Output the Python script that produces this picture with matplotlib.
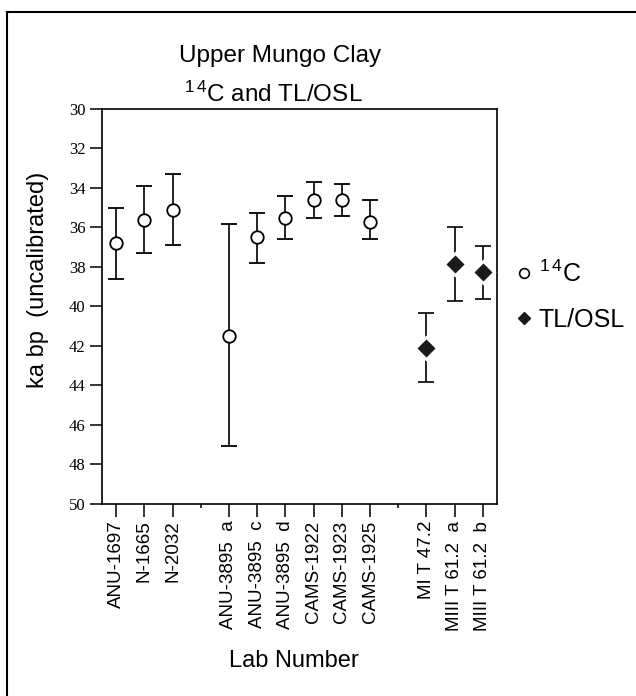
import matplotlib
matplotlib.use("Agg")
import matplotlib.pyplot as plt
from matplotlib.lines import Line2D

plt.rcParams['font.family'] = ['Liberation Sans', 'DejaVu Sans']
plt.rcParams['mathtext.default'] = 'regular'

# lab numbers along the x axis (blank entries are the gaps between groups)
lab_numbers = ['ANU-1697', 'N-1665', 'N-2032', '',
               'ANU-3895  a', 'ANU-3895  c', 'ANU-3895  d',
               'CAMS-1922', 'CAMS-1923', 'CAMS-1925', '',
               'MI T 47.2', 'MIII T 61.2  a', 'MIII T 61.2  b']

# 14C dates, ka bp
c14_labs = ['ANU-1697', 'N-1665', 'N-2032', 'ANU-3895  a', 'ANU-3895  c',
            'ANU-3895  d', 'CAMS-1922', 'CAMS-1923', 'CAMS-1925']
c14_age = [36.8, 35.6, 35.1, 41.5, 36.5, 35.5, 34.6, 34.6, 35.7]
c14_young = [35.0, 33.9, 33.3, 35.8, 35.25, 34.4, 33.7, 33.8, 34.6]
c14_old = [38.6, 37.3, 36.9, 47.05, 37.8, 36.6, 35.5, 35.4, 36.6]

# TL/OSL dates, ka bp
tl_labs = ['MI T 47.2', 'MIII T 61.2  a', 'MIII T 61.2  b']
tl_age = [42.1, 37.85, 38.25]
tl_young = [40.35, 35.95, 36.95]
tl_old = [43.8, 39.7, 39.6]

y_ticks = [30, 32, 34, 36, 38, 40, 42, 44, 46, 48, 50]

fig = plt.figure(figsize=(6.36, 6.96), dpi=100)
ax = fig.add_axes([0.1604, 0.2759, 0.6210, 0.5675])

c14_x = [lab_numbers.index(s) for s in c14_labs]
tl_x = [lab_numbers.index(s) for s in tl_labs]

c14_err = [[a - y for a, y in zip(c14_age, c14_young)],
           [o - a for a, o in zip(c14_age, c14_old)]]
tl_err = [[a - y for a, y in zip(tl_age, tl_young)],
          [o - a for a, o in zip(tl_age, tl_old)]]

ax.errorbar(c14_x, c14_age, yerr=c14_err, fmt='o', color='black',
            mfc='white', mec='black', mew=1.3, ms=9,
            elinewidth=1.2, capsize=6, capthick=1.2)
ax.errorbar(tl_x, tl_age, yerr=tl_err, fmt='none', ecolor='black',
            elinewidth=1.2, capsize=6, capthick=1.2)
ax.plot(tl_x, tl_age, 'D', mfc='#1a1a1a', mec='white', mew=2.0, ms=11,
        zorder=5)

ax.set_xlim(-0.5, len(lab_numbers) - 0.5)
ax.set_ylim(50, 30)
ax.set_yticks(y_ticks)
ax.set_yticklabels([str(t) for t in y_ticks], family='Liberation Serif',
                   fontsize=12)

major = [i for i, s in enumerate(lab_numbers) if s]
ax.set_xticks(major)
ax.set_xticklabels([lab_numbers[i] for i in major], rotation=90,
                   fontsize=13.5)
ax.set_xticks([i for i, s in enumerate(lab_numbers) if not s], minor=True)

ax.tick_params(axis='both', which='major', direction='out', length=9,
               width=1.1, pad=3)
ax.tick_params(axis='x', which='minor', direction='out', length=3, width=1.1)
for sp in ax.spines.values():
    sp.set_linewidth(1.2)

fig.text(280 / 636, 1 - 62 / 696, 'Upper Mungo Clay', ha='center',
         va='baseline', fontsize=17.5)
fig.text(273 / 636, 1 - 102 / 696, '$^{1\\,4}$C and TL/OSL', ha='center',
         va='baseline', fontsize=17.5)
fig.text(38 / 636, 1 - 280 / 696, 'ka bp  (uncalibrated)', rotation=90,
         ha='center', va='center', fontsize=17)
fig.text(294 / 636, 1 - 667 / 696, 'Lab Number', ha='center',
         va='baseline', fontsize=17)

handles = [Line2D([], [], marker='o', ls='none', mfc='white', mec='black',
                  mew=1.2, ms=7),
           Line2D([], [], marker='D', ls='none', mfc='#1a1a1a', mec='#1a1a1a',
                  ms=6.5)]
fig.legend(handles, ['$^{1\\,4}$C', 'TL/OSL'], loc='center left',
           bbox_to_anchor=(495 / 636, 1 - 296 / 696), frameon=False,
           fontsize=18, handlelength=0.5, handletextpad=0.35,
           labelspacing=0.85)

# page border (left and top only, the rest is cropped)
fig.add_artist(Line2D([7 / 636, 7 / 636], [0, 1 - 12 / 696],
                      transform=fig.transFigure, color='black', lw=1.5))
fig.add_artist(Line2D([7 / 636, 1], [1 - 12 / 696, 1 - 12 / 696],
                      transform=fig.transFigure, color='black', lw=1.5))

fig.savefig('out.png', dpi=100)
